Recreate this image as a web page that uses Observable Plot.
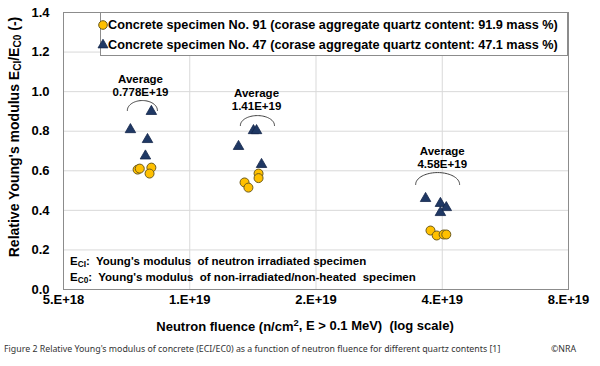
<!DOCTYPE html>
<html>
<head>
<meta charset="utf-8">
<script src="https://cdn.jsdelivr.net/npm/d3@7"></script>
<script src="https://cdn.jsdelivr.net/npm/@observablehq/plot@0.6"></script>
<style>
  body { margin: 0; background: #fff; }
  #chart svg { display: block; }
  #caption { position: relative; height: 26px; font-family: "Noto Sans", sans-serif; font-size: 8.8px; color: #333; }
  #caption .l { position: absolute; left: 4px; top: 3px; }
  #caption .r { position: absolute; left: 551px; top: 3px; }
</style>
</head>
<body>
<div id="chart"></div>
<div id="caption"><span class="l">Figure 2 Relative Young's modulus of concrete (ECI/EC0) as a function of neutron fluence for different quartz contents [1]</span><span class="r">©NRA</span></div>
<script>
// ---- data ----
const xTicks = [5e18, 1e19, 2e19, 4e19, 8e19];
const xTickLabels = ["5.E+18", "1.E+19", "2.E+19", "4.E+19", "8.E+19"];
const yTicks = [0, 0.2, 0.4, 0.6, 0.8, 1.0, 1.2, 1.4];

const no91Fluence = [7.51e18, 7.6e18, 8.1e18, 8.02e18, 1.459e19, 1.459e19, 1.351e19, 1.38e19, 3.75e19, 3.88e19, 4.03e19, 4.09e19];
const no91Modulus = [0.606, 0.611, 0.616, 0.586, 0.586, 0.563, 0.541, 0.515, 0.298, 0.273, 0.278, 0.278];
const no47Fluence = [7.22e18, 8.1e18, 7.93e18, 7.84e18, 1.419e19, 1.443e19, 1.307e19, 1.483e19, 3.65e19, 3.96e19, 4.09e19, 3.96e19];
const no47Modulus = [0.808, 0.90, 0.758, 0.675, 0.803, 0.803, 0.723, 0.632, 0.46, 0.435, 0.414, 0.389];

const legendLabels = [
  "Concrete specimen No. 91 (corase aggregate quartz content: 91.9 mass %)",
  "Concrete specimen No. 47 (corase aggregate quartz content: 47.1 mass %)"
];

// average annotations
const avgLabels = ["0.778E+19", "1.41E+19", "4.58E+19"];
const avgTextX = [7.63e18, 1.443e19, 4.0e19];
const avgTextY = [1.028, 0.957, 0.664];
const arcCenterX = [7.71e18, 1.45e19, 3.9e19];
const arcHalfWidthLog2 = [0.119, 0.135, 0.174];
const arcBaseY = [0.905, 0.829, 0.531];
const arcRise = [0.05, 0.05, 0.06];

const no91 = no91Fluence.map((x, i) => ({x, y: no91Modulus[i]}));
const no47 = no47Fluence.map((x, i) => ({x, y: no47Modulus[i]}));
const avgData = avgLabels.map((t, i) => ({x: avgTextX[i], y: avgTextY[i], t}));
const xTickData = xTicks.map((x, i) => ({x, t: xTickLabels[i]}));
const arcPts = [];
arcCenterX.forEach((c, i) => {
  for (let k = 0; k <= 40; k++) {
    const a = Math.PI * k / 40;
    arcPts.push({z: i, x: c * Math.pow(2, arcHalfWidthLog2[i] * Math.cos(a)), y: arcBaseY[i] + arcRise[i] * Math.sin(a)});
  }
});

const W = 600, H = 340, ML = 63, MR = 32, MT = 12, MB = 51;

const svg = Plot.plot({
  width: W, height: H,
  marginLeft: ML, marginRight: MR, marginTop: MT, marginBottom: MB,
  style: {fontFamily: "'Liberation Sans', Arial, sans-serif", fontSize: "13px", fontWeight: "bold", color: "#000", background: "#fff"},
  x: {type: "log", domain: [5e18, 8e19], axis: null},
  y: {domain: [0, 1.4], ticks: yTicks, tickFormat: d => d.toFixed(1), tickSize: 0, tickPadding: 14, label: null},
  marks: [
    Plot.ruleY(yTicks, {stroke: "#d9d9d9"}),
    Plot.ruleX(xTicks, {stroke: "#d9d9d9"}),
    Plot.frame({stroke: "#8c8c8c"}),
    Plot.text(xTickData, {x: "x", text: "t", frameAnchor: "bottom", dy: 14, fontSize: 13, fontWeight: "bold", fill: "#000"}),
    Plot.line(arcPts, {x: "x", y: "y", z: "z", stroke: "#404040", strokeWidth: 1}),
    Plot.text(avgData, {x: "x", y: "y", text: () => "Average", dy: -6.5, fontSize: 11.5, fontWeight: "bold", fill: "#000"}),
    Plot.text(avgData, {x: "x", y: "y", text: "t", dy: 6.5, fontSize: 11.5, fontWeight: "bold", fill: "#000"}),
    Plot.dot(no47, {x: "x", y: "y", symbol: "triangle", r: 3.9, fill: "#1F3864", stroke: "#14264a", strokeWidth: 0.8}),
    Plot.dot(no91, {x: "x", y: "y", r: 4.5, fill: "#FFC000", stroke: "#6b5a1e", strokeWidth: 1})
  ]
});

document.getElementById("chart").appendChild(svg);
const s = d3.select(svg);

// legend box
const lg = s.append("g").attr("text-anchor", "start");
lg.append("rect").attr("x", 100.5).attr("y", 12.5).attr("width", 467).attr("height", 43).attr("fill", "#fff").attr("stroke", "#8c8c8c");
lg.append("circle").attr("cx", 103).attr("cy", 25).attr("r", 4.3).attr("fill", "#FFC000").attr("stroke", "#6b5a1e");
lg.append("path").attr("d", d3.symbol(d3.symbolTriangle, 3.7 * 3.7 * Math.PI)()).attr("transform", "translate(103,45)").attr("fill", "#1F3864").attr("stroke", "#14264a").attr("stroke-width", 0.8);
legendLabels.forEach((t, i) => {
  lg.append("text").attr("x", 108).attr("y", 25 + 20 * i).attr("dy", "0.35em").attr("font-size", 12.7).attr("font-weight", "bold").attr("text-anchor", "start").text(t);
});

// E definitions
function subText(g, x, y, parts, size, anchor) {
  const t = g.append("text").attr("x", x).attr("y", y).attr("dy", "0.35em").attr("font-size", size).attr("font-weight", "bold").attr("text-anchor", anchor);
  parts.forEach(p => {
    const ts = t.append("tspan").text(p.t);
    if (p.sub) ts.attr("font-size", size * 0.72).attr("dy", "0.25em");
    else if (p.sup) ts.attr("font-size", size * 0.72).attr("dy", "-0.45em");
    else if (p.reset) ts.attr("dy", p.reset);
  });
  return t;
}
subText(s, 70, 261, [{t: "E"}, {t: "CI", sub: true}, {t: ":  Young's modulus  of neutron irradiated specimen", reset: "-0.18em"}], 11.5, "start");
subText(s, 70, 277, [{t: "E"}, {t: "C0", sub: true}, {t: ":  Young's modulus  of non-irradiated/non-heated  specimen", reset: "-0.18em"}], 11.5, "start");

// x title
subText(s, 305, 326, [{t: "Neutron fluence (n/cm"}, {t: "2", sup: true}, {t: ", E > 0.1 MeV)  (log scale)", reset: "0.32em"}], 13, "middle");

// y title
const yt = s.append("g").attr("transform", "translate(14,137) rotate(-90)");
subText(yt, 0, 0, [{t: "Relative Young's modulus E"}, {t: "CI", sub: true}, {t: "/E", reset: "-0.18em"}, {t: "C0", sub: true}, {t: " (-)", reset: "-0.18em"}], 14, "middle");
</script>
</body>
</html>
